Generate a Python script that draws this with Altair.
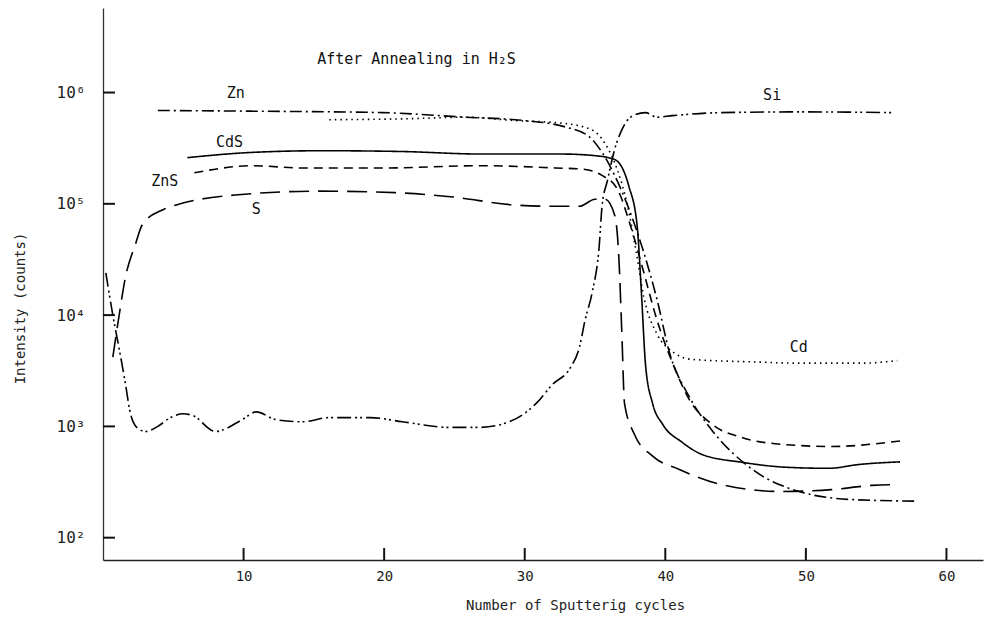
import altair as alt
import pandas as pd

# ---- data (cycles, intensity in counts) ----
zn_x = [3.9, 10.65, 19.9, 25.8, 29.3, 32.9, 34.6, 35.5, 36.4, 37.3, 38.4, 39.4, 40.3, 41.7, 43.3, 46.2, 49.7, 53.3, 57.7]
zn_y = [6.9e5, 6.8e5, 6.6e5, 6.0e5, 5.7e5, 4.9e5, 4.0e5, 2.9e5, 1.8e5, 9.8e4, 3.9e4, 1.4e4, 4.6e3, 1.85e3, 930, 410, 256, 220, 213]

cd_x = [16.1, 21.3, 25.8, 29.3, 32.7, 34.8, 35.7, 36.6, 37.3, 37.9, 38.5, 39.4, 40.5, 41.9, 46.2, 49.7, 54.0, 56.5]
cd_y = [5.7e5, 5.8e5, 6.0e5, 5.6e5, 5.3e5, 4.6e5, 3.5e5, 2.0e5, 9.8e4, 3.9e4, 1.4e4, 6.8e3, 4.7e3, 4.0e3, 3.8e3, 3.7e3, 3.7e3, 3.9e3]

cds_x = [6.0, 10.65, 15.6, 21.3, 27.0, 32.7, 35.1, 36.4, 37.4, 38.0, 38.3, 38.6, 39.1, 39.8, 41.2, 42.6, 45.5, 48.5, 51.6, 53.8, 56.7]
cds_y = [2.6e5, 2.9e5, 3.0e5, 2.95e5, 2.8e5, 2.8e5, 2.7e5, 2.5e5, 1.45e5, 6.3e4, 1.6e4, 3.5e3, 1.6e3, 1.05e3, 720, 560, 475, 430, 420, 455, 480]

zns_x = [6.5, 10.65, 14.2, 19.9, 27.0, 32.2, 34.1, 35.5, 36.6, 37.5, 38.4, 39.4, 40.6, 41.7, 43.3, 45.5, 48.3, 51.8, 56.7]
zns_y = [1.9e5, 2.2e5, 2.1e5, 2.1e5, 2.2e5, 2.1e5, 2.05e5, 1.8e5, 1.35e5, 6.5e4, 2.6e4, 9.1e3, 3.5e3, 1.75e3, 1.05e3, 790, 690, 660, 740]

s_x = [0.7, 1.1, 1.6, 2.3, 2.8, 4.3, 5.5, 9.4, 15.4, 20.8, 24.9, 29.1, 32.0, 33.9, 35.0, 35.7, 36.4, 36.7, 36.9, 37.1, 37.8, 39.1, 41.0, 44.0, 48.3, 51.8, 54.7, 56.6]
s_y = [4.2e3, 9.1e3, 2.2e4, 4.3e4, 6.5e4, 8.9e4, 1.0e5, 1.2e5, 1.3e5, 1.26e5, 1.15e5, 9.8e4, 9.5e4, 9.5e4, 1.1e5, 1.1e5, 7.9e4, 3.2e4, 7.4e3, 1.6e3, 850, 540, 410, 300, 260, 270, 295, 300]

si_x = [0.2, 0.7, 1.2, 1.6, 1.9, 2.4, 3.05, 3.9, 4.8, 5.7, 6.4, 8.0, 9.9, 10.9, 12.3, 14.2, 16.1, 19.0, 21.3, 24.6, 26.8, 28.9, 30.8, 32.0, 33.2, 33.9, 34.3, 34.8, 35.3, 35.5, 35.9, 36.4, 36.9, 37.6, 38.6, 39.4, 40.5, 44.0, 49.7, 56.1]
si_y = [2.4e4, 1.0e4, 4.6e3, 2.4e3, 1.4e3, 980, 900, 1.0e3, 1.2e3, 1.3e3, 1.25e3, 900, 1.15e3, 1.35e3, 1.15e3, 1.1e3, 1.2e3, 1.2e3, 1.1e3, 980, 980, 1.1e3, 1.6e3, 2.4e3, 3.3e3, 5.2e3, 9.1e3, 1.6e4, 4.2e4, 9.5e4, 1.65e5, 3.1e5, 4.6e5, 6.1e5, 6.6e5, 6.0e5, 6.2e5, 6.6e5, 6.7e5, 6.6e5]

series_names = ["Zn", "Cd", "CdS", "ZnS", "S", "Si"]
series_dash = [[12, 4, 2, 4], [1.5, 4], [1, 0], [9, 6], [20, 9], [14, 4, 2, 3, 2, 4]]

label_text = ["Zn", "CdS", "ZnS", "S", "Si", "Cd"]
label_x = [9.45, 9.0, 4.4, 10.9, 47.6, 49.5]
label_y = [1.0e6, 3.6e5, 1.6e5, 9.0e4, 9.5e5, 5.2e3]

y_ticks = [100, 1000, 10000, 100000, 1000000]
x_ticks = [10, 20, 30, 40, 50, 60]

title_text = "After Annealing in H\u2082S"
title_x = [22.3]
title_y = [2.0e6]

Y_MIN, Y_MAX = 63, 5.75e6
X_MIN, X_MAX = 0, 62.6

rows = []
for name, xs, ys in zip(series_names,
                        [zn_x, cd_x, cds_x, zns_x, s_x, si_x],
                        [zn_y, cd_y, cds_y, zns_y, s_y, si_y]):
    for i, (a, b) in enumerate(zip(xs, ys)):
        rows.append({"series": name, "cycle": a, "intensity": b, "order": i})
df = pd.DataFrame(rows)

FONT = "DejaVu Sans Mono"

xscale = alt.Scale(domain=[X_MIN, X_MAX], nice=False, zero=False)
yscale = alt.Scale(type="log", domain=[Y_MIN, Y_MAX], nice=False)

lines = alt.Chart(df).mark_line(color="black", strokeWidth=1.6, interpolate="monotone", clip=True).encode(
    x=alt.X("cycle:Q", scale=xscale,
            axis=alt.Axis(values=x_ticks, ticks=False, grid=False, labelFont=FONT, labelFontSize=14,
                          labelColor="#222", labelPadding=9, domainColor="#222", domainWidth=1.5,
                          title="Number of Sputterig cycles", titleFont=FONT, titleFontSize=14,
                          titleFontWeight="normal", titleColor="#222", titleX=472, titleY=45,
                          titleBaseline="middle", titleAnchor="start", titleAlign="center")),
    y=alt.Y("intensity:Q", scale=yscale,
            axis=alt.Axis(values=y_ticks, ticks=False, grid=False, labelFont=FONT, labelFontSize=16,
                          labelColor="#222", labelPadding=18, domainColor="#333", domainWidth=1.3,
                          labelExpr="'10' + ['\u2070','\u00b9','\u00b2','\u00b3','\u2074','\u2075','\u2076'][round(log(datum.value)/LN10)]",
                          title="Intensity (counts)", titleFont=FONT, titleFontSize=14,
                          titleFontWeight="normal", titleColor="#222", titleX=-83, titleY=300,
                          titleBaseline="middle", titleAlign="center", titleAnchor="start")),
    strokeDash=alt.StrokeDash("series:N", scale=alt.Scale(domain=series_names, range=series_dash), legend=None),
    detail="series:N",
    order="order:Q",
)

ytick_df = pd.DataFrame({"tv": y_ticks, "ta": [0.0] * len(y_ticks), "tb": [0.85] * len(y_ticks)})
yticks = alt.Chart(ytick_df).mark_rule(color="#111", strokeWidth=2).encode(
    x=alt.X("ta:Q", scale=xscale), x2=alt.X2("tb:Q"), y=alt.Y("tv:Q", scale=yscale))

xtick_df = pd.DataFrame({"tx": x_ticks, "ya": [Y_MIN] * len(x_ticks), "yb": [Y_MIN * 1.28] * len(x_ticks)})
xticks = alt.Chart(xtick_df).mark_rule(color="#111", strokeWidth=2).encode(
    x=alt.X("tx:Q", scale=xscale), y=alt.Y("ya:Q", scale=yscale), y2=alt.Y2("yb:Q"))

lab_df = pd.DataFrame({"t": label_text, "lx": label_x, "ly": label_y})
labels = alt.Chart(lab_df).mark_text(font=FONT, fontSize=15, color="#111", align="center", baseline="middle").encode(
    x=alt.X("lx:Q", scale=xscale), y=alt.Y("ly:Q", scale=yscale), text="t:N")

tdf = pd.DataFrame({"t": [title_text], "lx": title_x, "ly": title_y})
title = alt.Chart(tdf).mark_text(font=FONT, fontSize=15, color="#111", align="center", baseline="middle").encode(
    x=alt.X("lx:Q", scale=xscale), y=alt.Y("ly:Q", scale=yscale), text="t:N")

chart = alt.layer(lines, yticks, xticks, labels, title).properties(
    width=880, height=552,
    autosize=alt.AutoSizeParams(type="none"),
    padding={"left": 95, "top": 0, "right": 2, "bottom": 60},
).configure(background="white").configure_view(stroke=None)

chart.save("out.html", embed_options={"renderer": "svg", "actions": False})
